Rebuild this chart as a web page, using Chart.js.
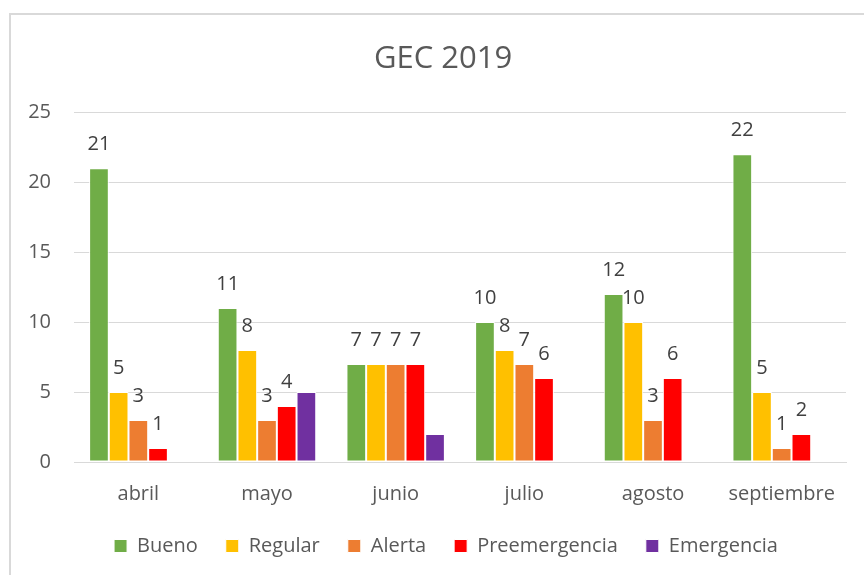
<!DOCTYPE html>
<html>
<head>
<meta charset="utf-8">
<title>GEC 2019</title>
<script src="https://cdn.jsdelivr.net/npm/chart.js@4.4.1/dist/chart.umd.min.js"></script>
<style>
    html, body { margin: 0; padding: 0; background: #fff; overflow: hidden; }
    .frame {
        position: absolute; left: 9px; top: 13px;
        width: 900px; height: 600px;
        border: 2px solid #d9d9d9;
    }
    #chart { position: absolute; left: 0; top: 0; }
</style>
</head>
<body>
<div class="frame"></div>
<canvas id="chart" width="864" height="575"></canvas>
<script>
const months = ['abril', 'mayo', 'junio', 'julio', 'agosto', 'septiembre'];

const bueno = [21, 11, 7, 10, 12, 22];
const regular = [5, 8, 7, 8, 10, 5];
const alerta = [3, 3, 7, 7, 3, 1];
const preemergencia = [1, 4, 7, 6, 6, 2];
const emergencia = [0, 5, 2, 0, 0, 0];

const yTicks = [0, 5, 10, 15, 20, 25];

// series without value labels in the original
const unlabelled = ['Emergencia'];

const FONT = "'Open Sans', 'Noto Sans', sans-serif";

// draws the numbers above the bars
const barValues = {
    id: 'barValues',
    afterDatasetsDraw(chart) {
        const ctx = chart.ctx;
        ctx.save();
        ctx.font = `20px ${FONT}`;
        ctx.fillStyle = '#404040';
        ctx.textAlign = 'center';
        ctx.textBaseline = 'alphabetic';
        chart.data.datasets.forEach((ds, i) => {
            if (unlabelled.includes(ds.label)) return;
            chart.getDatasetMeta(i).data.forEach((bar, j) => {
                const v = ds.data[j];
                if (!v) return;
                ctx.fillText(String(v), bar.x, bar.y - 18);
            });
        });
        ctx.restore();
    }
};

// title and legend are centred on the whole frame, not on the plot
const frameCentre = {
    id: 'frameCentre',
    afterLayout(chart) {
        const t = chart.titleBlock, l = chart.legend;
        if (t) { t.left += 20; t.right += 20; }
        if (l) { l.left += 23; l.right += 23; }
    }
};

const series = (label, data, color) => ({
    label, data,
    backgroundColor: color,
    borderColor: '#ffffff',
    borderWidth: 1,
    borderSkipped: false,
    categoryPercentage: 0.765,
    barPercentage: 1
});

new Chart(document.getElementById('chart'), {
    type: 'bar',
    data: {
        labels: months,
        datasets: [
            series('Bueno', bueno, '#70ad47'),
            series('Regular', regular, '#ffc000'),
            series('Alerta', alerta, '#ed7d31'),
            series('Preemergencia', preemergencia, '#ff0000'),
            series('Emergencia', emergencia, '#7030a0')
        ]
    },
    plugins: [barValues, frameCentre],
    options: {
        responsive: false,
        animation: false,
        layout: { padding: { left: 0, right: 18, top: 0, bottom: 9 } },
        plugins: {
            title: {
                display: true,
                text: 'GEC 2019',
                color: '#595959',
                font: { family: FONT, size: 31, weight: 'normal' },
                padding: { top: 41, bottom: 34 }
            },
            legend: {
                position: 'bottom',
                labels: {
                    color: '#595959',
                    font: { family: FONT, size: 20 },
                    boxWidth: 13,
                    boxHeight: 13,
                    padding: 28
                }
            },
            tooltip: { enabled: false }
        },
        scales: {
            x: {
                grid: { display: false },
                border: { display: true, color: '#d9d9d9', width: 1 },
                ticks: {
                    color: '#595959',
                    font: { family: FONT, size: 20 },
                    padding: 12,
                    maxRotation: 0
                },
                afterFit(scale) { scale.height = 46; }
            },
            y: {
                min: 0,
                max: 25,
                afterBuildTicks(scale) { scale.ticks = yTicks.map(v => ({ value: v })); },
                grid: { color: '#d9d9d9', lineWidth: 1, drawTicks: false },
                border: { display: false },
                ticks: {
                    color: '#595959',
                    font: { family: FONT, size: 20 },
                    padding: 23
                },
                afterFit(scale) { scale.width = 74; }
            }
        }
    }
});
</script>
</body>
</html>
